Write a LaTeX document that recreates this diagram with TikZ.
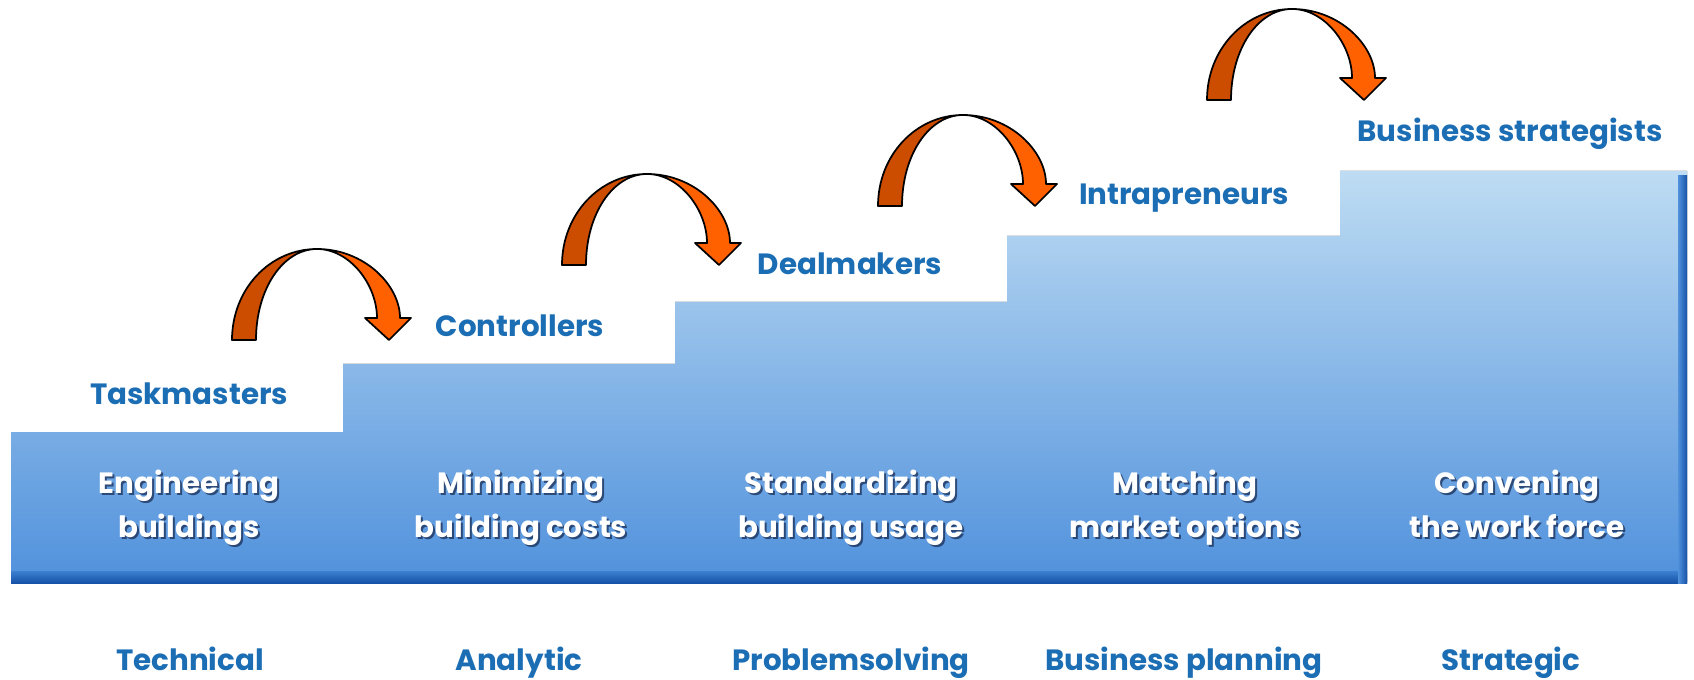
\documentclass[tikz,border=0pt]{standalone}
\usepackage{fontspec}
\setmainfont{Poppins}
\usepackage{xcolor}

\definecolor{labelblue}{RGB}{28,110,180}
\definecolor{stairtop}{RGB}{190,220,243}
\definecolor{stairbot}{RGB}{80,145,220}
\definecolor{bandtop}{RGB}{60,128,208}
\definecolor{bandbot}{RGB}{22,82,168}
\definecolor{arrowback}{RGB}{204,76,0}
\definecolor{arrowfront}{RGB}{255,96,0}
\definecolor{textshade}{RGB}{25,45,85}

\begin{document}
\begin{tikzpicture}[x=0.75pt,y=0.75pt,yscale=-1,xscale=1,
  steplabel/.style={inner sep=0.75pt,text=labelblue,font=\fontsize{22}{26}\selectfont\bfseries},
  skilllabel/.style={anchor=base,inner sep=0.75pt,text=labelblue,font=\fontsize{22}{26}\selectfont\bfseries},
  tasktext/.style={inner sep=0.75pt,align=center,text depth=0pt,text=white,font=\fontsize{22}{33}\selectfont\bfseries},
  taskshade/.style={tasktext,text=textshade,text opacity=0.75},
  arrowdark/.style={fill=arrowback,draw=black,line width=1.3pt,line join=round},
  arrowlight/.style={fill=arrowfront,draw=black,line width=1.3pt,line join=round}]
\path [use as bounding box] (0,0) rectangle (1694,680);

% Staircase
\fill [top color=stairtop, bottom color=stairbot] (11,432) -- (343,432) -- (343,364) -- (675,364) -- (675,302) -- (1007,302) -- (1007,236) -- (1340,236) -- (1340,171) -- (1687,171) -- (1687,582) -- (11,582) -- cycle ;
% Bottom edge
\fill [top color=bandtop, bottom color=bandbot] (11,571) rectangle (1687,583) ;
% Right edge
\fill [left color=stairbot, right color=bandbot] (1678,176) rectangle (1687,583) ;

% Curved arrow
\draw [arrowdark, shift={(317,249)}] (-85,91) .. controls (-85,40) and (-47,0) .. (0,0) .. controls (-34,0) and (-61,40) .. (-61,91) -- cycle ;
\draw [arrowlight, shift={(317,249)}] (0,0) .. controls (47,0) and (83,36) .. (83,69) -- (94,69) -- (72,91) -- (48,69) -- (60,69) .. controls (60,36) and (33,0) .. (0,0) -- cycle ;
% Curved arrow
\draw [arrowdark, shift={(647,174)}] (-85,91) .. controls (-85,40) and (-47,0) .. (0,0) .. controls (-34,0) and (-61,40) .. (-61,91) -- cycle ;
\draw [arrowlight, shift={(647,174)}] (0,0) .. controls (47,0) and (83,36) .. (83,69) -- (94,69) -- (72,91) -- (48,69) -- (60,69) .. controls (60,36) and (33,0) .. (0,0) -- cycle ;
% Curved arrow
\draw [arrowdark, shift={(963,115)}] (-85,91) .. controls (-85,40) and (-47,0) .. (0,0) .. controls (-34,0) and (-61,40) .. (-61,91) -- cycle ;
\draw [arrowlight, shift={(963,115)}] (0,0) .. controls (47,0) and (83,36) .. (83,69) -- (94,69) -- (72,91) -- (48,69) -- (60,69) .. controls (60,36) and (33,0) .. (0,0) -- cycle ;
% Curved arrow
\draw [arrowdark, shift={(1292,9)}] (-85,91) .. controls (-85,40) and (-47,0) .. (0,0) .. controls (-34,0) and (-61,40) .. (-61,91) -- cycle ;
\draw [arrowlight, shift={(1292,9)}] (0,0) .. controls (47,0) and (83,36) .. (83,69) -- (94,69) -- (72,91) -- (48,69) -- (60,69) .. controls (60,36) and (33,0) .. (0,0) -- cycle ;

% Step labels
\node [steplabel] (taskmasters) at (189,394) {Taskmasters};
\node [steplabel] (controllers) at (520,326) {Controllers};
\node [steplabel] (dealmakers) at (850,264) {Dealmakers};
\node [steplabel] (intrapreneurs) at (1184,198) {Intrapreneurs};
\node [steplabel] (strategists) at (1510,134) {Business strategists};

% Task texts
\node [taskshade] (engineeringsh) at (191,506) {Engineering\\buildings};
\node [tasktext] (engineering) at ([shift={(-2,-2)}]engineeringsh.center) {Engineering\\buildings};
\node [taskshade] (minimizingsh) at (523,506) {Minimizing\\building costs};
\node [tasktext] (minimizing) at ([shift={(-2,-2)}]minimizingsh.center) {Minimizing\\building costs};
\node [taskshade] (standardizingsh) at (853,506) {Standardizing\\building usage};
\node [tasktext] (standardizing) at ([shift={(-2,-2)}]standardizingsh.center) {Standardizing\\building usage};
\node [taskshade] (matchingsh) at (1187,506) {Matching\\market options};
\node [tasktext] (matching) at ([shift={(-2,-2)}]matchingsh.center) {Matching\\market options};
\node [taskshade] (conveningsh) at (1519,506) {Convening\\the work force};
\node [tasktext] (convening) at ([shift={(-2,-2)}]conveningsh.center) {Convening\\the work force};

% Skill labels
\node [skilllabel] (technical) at (190,670) {Technical};
\node [skilllabel] (analytic) at (519,670) {Analytic};
\node [skilllabel] (problemsolving) at (851,670) {Problemsolving};
\node [skilllabel] (planning) at (1184,670) {Business planning};
\node [skilllabel] (strategic) at (1511,670) {Strategic};

\end{tikzpicture}
\end{document}
